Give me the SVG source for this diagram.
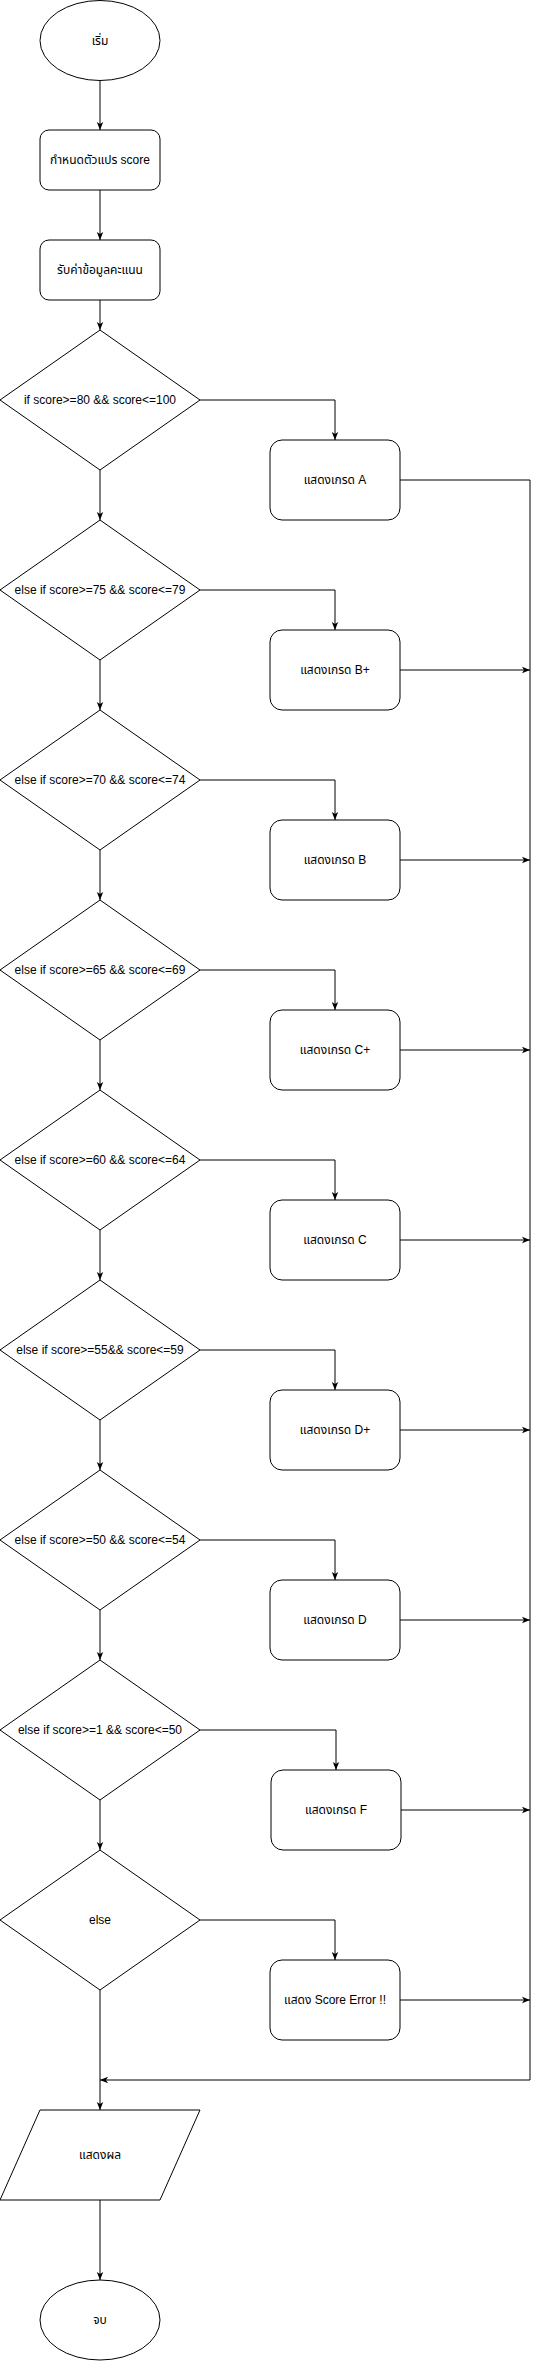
<svg xmlns="http://www.w3.org/2000/svg" width="539" height="2361" viewBox="0 0 539 2361">
<style>
.s{fill:#fff;stroke:#000;stroke-width:1}
.t{font-family:"Liberation Sans","Noto Sans Thai","Tahoma","DejaVu Sans",sans-serif;font-size:12px;fill:#000;text-anchor:middle}
.c{fill:none;stroke:#000;stroke-width:1}
</style>
<defs>
<marker id="arr" viewBox="0 0 10 10" refX="10" refY="5" markerWidth="8" markerHeight="8" markerUnits="userSpaceOnUse" orient="auto"><path d="M0,1 L10,5 L0,9 L2.5,5 z" fill="#000"/></marker>
</defs>
<rect width="539" height="2361" fill="#fff"/>
<g id="connectors">
<path class="c" d="M100,80.5 V130" marker-end="url(#arr)"/>
<path class="c" d="M100,190 V240" marker-end="url(#arr)"/>
<path class="c" d="M100,300 V330" marker-end="url(#arr)"/>
<path class="c" d="M100,470 V520" marker-end="url(#arr)"/>
<path class="c" d="M100,660 V710" marker-end="url(#arr)"/>
<path class="c" d="M100,850 V900" marker-end="url(#arr)"/>
<path class="c" d="M100,1040 V1090" marker-end="url(#arr)"/>
<path class="c" d="M100,1230 V1280" marker-end="url(#arr)"/>
<path class="c" d="M100,1420 V1470" marker-end="url(#arr)"/>
<path class="c" d="M100,1610 V1660" marker-end="url(#arr)"/>
<path class="c" d="M100,1800 V1850" marker-end="url(#arr)"/>
<path class="c" d="M100,1990 V2110" marker-end="url(#arr)"/>
<path class="c" d="M100,2200 V2280" marker-end="url(#arr)"/>
<path class="c" d="M200,400 H335 V440" marker-end="url(#arr)"/>
<path class="c" d="M200,590 H335 V630" marker-end="url(#arr)"/>
<path class="c" d="M200,780 H335 V820" marker-end="url(#arr)"/>
<path class="c" d="M200,970 H335 V1010" marker-end="url(#arr)"/>
<path class="c" d="M200,1160 H335 V1200" marker-end="url(#arr)"/>
<path class="c" d="M200,1350 H335 V1390" marker-end="url(#arr)"/>
<path class="c" d="M200,1540 H335 V1580" marker-end="url(#arr)"/>
<path class="c" d="M200,1730 H336 V1770" marker-end="url(#arr)"/>
<path class="c" d="M200,1920 H335 V1960" marker-end="url(#arr)"/>
<path class="c" d="M400,480 H530 V2080 H100" marker-end="url(#arr)"/>
<path class="c" d="M400,670 H530" marker-end="url(#arr)"/>
<path class="c" d="M400,860 H530" marker-end="url(#arr)"/>
<path class="c" d="M400,1050 H530" marker-end="url(#arr)"/>
<path class="c" d="M400,1240 H530" marker-end="url(#arr)"/>
<path class="c" d="M400,1430 H530" marker-end="url(#arr)"/>
<path class="c" d="M400,1620 H530" marker-end="url(#arr)"/>
<path class="c" d="M401,1810 H530" marker-end="url(#arr)"/>
<path class="c" d="M400,2000 H530" marker-end="url(#arr)"/>
</g>
<g id="start"><ellipse class="s" cx="100" cy="40.5" rx="60" ry="40"/><text class="t" x="100" y="44.5">เริ่ม</text></g>
<g id="declare"><rect class="s" x="40" y="130" width="120" height="60" rx="9"/><text class="t" x="100" y="164">กำหนดตัวแปร score</text></g>
<g id="input"><rect class="s" x="40" y="240" width="120" height="60" rx="9"/><text class="t" x="100" y="274">รับค่าข้อมูลคะแนน</text></g>
<g id="d1"><polygon class="s" points="100,330 200,400 100,470 0,400"/><text class="t" x="100" y="404">if score&gt;=80 &amp;&amp; score&lt;=100</text></g>
<g id="d2"><polygon class="s" points="100,520 200,590 100,660 0,590"/><text class="t" x="100" y="594">else if score&gt;=75 &amp;&amp; score&lt;=79</text></g>
<g id="d3"><polygon class="s" points="100,710 200,780 100,850 0,780"/><text class="t" x="100" y="784">else if score&gt;=70 &amp;&amp; score&lt;=74</text></g>
<g id="d4"><polygon class="s" points="100,900 200,970 100,1040 0,970"/><text class="t" x="100" y="974">else if score&gt;=65 &amp;&amp; score&lt;=69</text></g>
<g id="d5"><polygon class="s" points="100,1090 200,1160 100,1230 0,1160"/><text class="t" x="100" y="1164">else if score&gt;=60 &amp;&amp; score&lt;=64</text></g>
<g id="d6"><polygon class="s" points="100,1280 200,1350 100,1420 0,1350"/><text class="t" x="100" y="1354">else if score&gt;=55&amp;&amp; score&lt;=59</text></g>
<g id="d7"><polygon class="s" points="100,1470 200,1540 100,1610 0,1540"/><text class="t" x="100" y="1544">else if score&gt;=50 &amp;&amp; score&lt;=54</text></g>
<g id="d8"><polygon class="s" points="100,1660 200,1730 100,1800 0,1730"/><text class="t" x="100" y="1734">else if score&gt;=1 &amp;&amp; score&lt;=50</text></g>
<g id="d9"><polygon class="s" points="100,1850 200,1920 100,1990 0,1920"/><text class="t" x="100" y="1924">else</text></g>
<g id="gA"><rect class="s" x="270" y="440" width="130" height="80" rx="12"/><text class="t" x="335" y="484">แสดงเกรด A</text></g>
<g id="gBp"><rect class="s" x="270" y="630" width="130" height="80" rx="12"/><text class="t" x="335" y="674">แสดงเกรด B+</text></g>
<g id="gB"><rect class="s" x="270" y="820" width="130" height="80" rx="12"/><text class="t" x="335" y="864">แสดงเกรด B</text></g>
<g id="gCp"><rect class="s" x="270" y="1010" width="130" height="80" rx="12"/><text class="t" x="335" y="1054">แสดงเกรด C+</text></g>
<g id="gC"><rect class="s" x="270" y="1200" width="130" height="80" rx="12"/><text class="t" x="335" y="1244">แสดงเกรด C</text></g>
<g id="gDp"><rect class="s" x="270" y="1390" width="130" height="80" rx="12"/><text class="t" x="335" y="1434">แสดงเกรด D+</text></g>
<g id="gD"><rect class="s" x="270" y="1580" width="130" height="80" rx="12"/><text class="t" x="335" y="1624">แสดงเกรด D</text></g>
<g id="gF"><rect class="s" x="271" y="1770" width="130" height="80" rx="12"/><text class="t" x="336" y="1814">แสดงเกรด F</text></g>
<g id="gErr"><rect class="s" x="270" y="1960" width="130" height="80" rx="12"/><text class="t" x="335" y="2004">แสดง Score Error !!</text></g>
<g id="output"><polygon class="s" points="40,2110 200,2110 160,2200 0,2200"/><text class="t" x="100" y="2159">แสดงผล</text></g>
<g id="end"><ellipse class="s" cx="100" cy="2320" rx="60" ry="40"/><text class="t" x="100" y="2324">จบ</text></g>
</svg>
